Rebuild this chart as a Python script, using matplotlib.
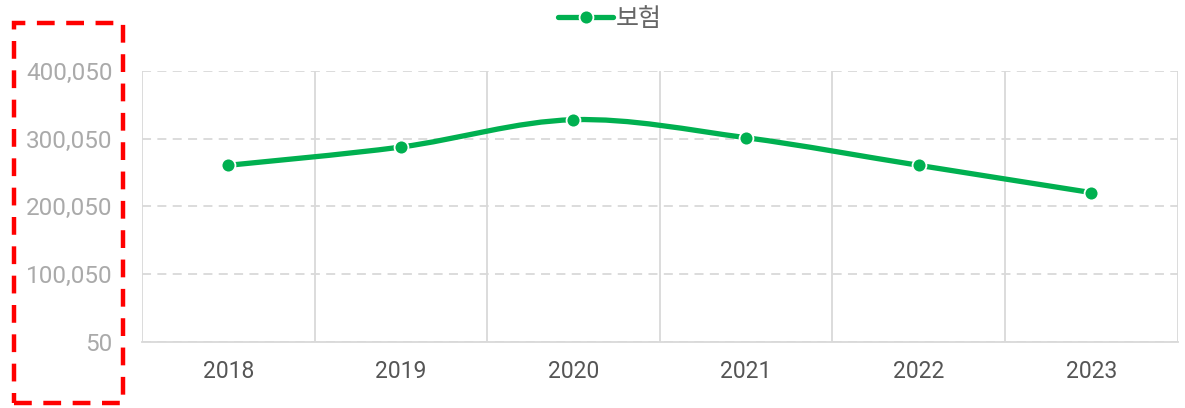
import matplotlib
matplotlib.use('Agg')
import matplotlib.pyplot as plt
from matplotlib.path import Path
from matplotlib.patches import PathPatch, Rectangle
from matplotlib.lines import Line2D
from matplotlib.ticker import FixedLocator, FuncFormatter
import numpy as np

# chart data
years = ['2018', '2019', '2020', '2021', '2022', '2023']
insurance = [260700, 287700, 328100, 301500, 260700, 220400]
series_name = '보험'
y_ticks = [50, 100050, 200050, 300050, 400050]

green = '#00b050'
grid_color = '#d9d9d9'

plt.rcParams['font.family'] = ['Roboto', 'Noto Sans CJK KR', 'DejaVu Sans']

fig = plt.figure(figsize=(11.85, 4.08), dpi=100)
ax = fig.add_axes([142 / 1185, 66.3 / 408, 1035.5 / 1185, 270.7 / 408])

x = np.arange(len(years))
y = np.array(insurance, dtype=float)

# smooth line as cubic bezier segments (catmull-rom style control points)
pts = np.column_stack([x, y])
verts = [tuple(pts[0])]
codes = [Path.MOVETO]
for i in range(len(pts) - 1):
    p0 = pts[i - 1] if i > 0 else pts[i]
    p1 = pts[i]
    p2 = pts[i + 1]
    p3 = pts[i + 2] if i + 2 < len(pts) else pts[i + 1]
    c1 = p1 + (p2 - p0) / 6
    c2 = p2 - (p3 - p1) / 6
    verts += [tuple(c1), tuple(c2), tuple(p2)]
    codes += [Path.CURVE4] * 3
ax.add_patch(PathPatch(Path(verts, codes), facecolor='none', edgecolor=green,
                       lw=3.8, capstyle='round', zorder=3))
ax.plot(x, y, linestyle='none', marker='o', markersize=10, color=green,
        markeredgecolor='white', markeredgewidth=1.3, zorder=4)

ax.set_xlim(-0.5, len(years) - 0.5)
ax.set_ylim(y_ticks[0], y_ticks[-1])

ax.set_xticks(x)
ax.set_xticklabels(years)
ax.xaxis.set_minor_locator(FixedLocator(np.arange(-0.5, len(years), 1.0)))
ax.set_yticks(y_ticks)
ax.yaxis.set_major_formatter(FuncFormatter(lambda v, p: f'{int(v):,}'))

ax.grid(axis='y', which='major', color=grid_color, linestyle=(0, (5, 3.5)), lw=1.3)
ax.grid(axis='x', which='minor', color=grid_color, linestyle='-', lw=1.3)
ax.set_axisbelow(True)

for side in ['top', 'right', 'left']:
    ax.spines[side].set_visible(False)
ax.spines['bottom'].set_color(grid_color)
ax.spines['bottom'].set_linewidth(1.3)

ax.tick_params(axis='x', which='both', length=0, pad=13, labelsize=16.5, labelcolor='#555555')
ax.tick_params(axis='y', which='both', length=0, pad=21, labelsize=17.5, labelcolor='#aaaaaa')

# legend on top
handle = Line2D([0], [0], color=green, lw=3.8, marker='o', markersize=10,
                markeredgecolor='white', markeredgewidth=1.3, solid_capstyle='round')
leg = fig.legend([handle], [series_name], loc='center',
                 bbox_to_anchor=(610 / 1185, 1 - 19 / 408),
                 frameon=False, fontsize=18, handlelength=2.2, handletextpad=0.1,
                 borderpad=0, borderaxespad=0)
for t in leg.get_texts():
    t.set_color('#666666')

# red dashed box around the y axis labels
fig.patches.append(Rectangle((14 / 1185, 5 / 408), 109 / 1185, 380 / 408,
                             transform=fig.transFigure, fill=False, edgecolor='#ff0000',
                             lw=3.2, linestyle=(0, (4, 2.6)), zorder=10))

fig.savefig('out.png', dpi=100)
